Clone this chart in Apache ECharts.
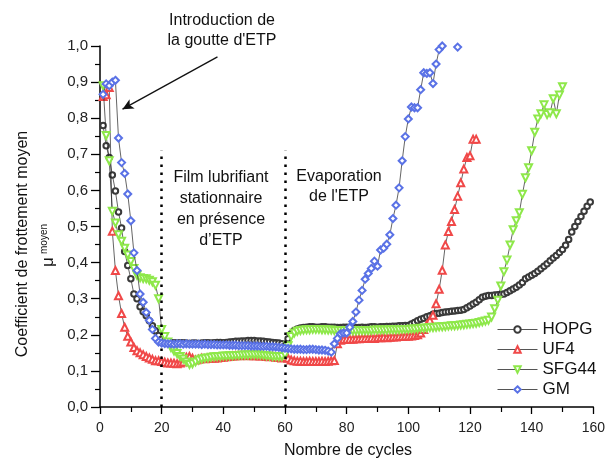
<!DOCTYPE html>
<html>
<head>
<meta charset="utf-8">
<script src="https://cdn.jsdelivr.net/npm/echarts@6/dist/echarts.min.js"></script>
<style>
  html, body { margin: 0; padding: 0; background: #fff; }
  #chart { width: 608px; height: 464px; }
</style>
</head>
<body>
<div id="chart"></div>
<script>
var seriesNames = ['HOPG', 'UF4', 'SFG44', 'GM'];
var xTicks = [0, 20, 40, 60, 80, 100, 120, 140, 160];
var yTicks = ['0,0', '0,1', '0,2', '0,3', '0,4', '0,5', '0,6', '0,7', '0,8', '0,9', '1,0'];

// coefficient de frottement, un point par cycle, a partir du cycle 1
var hopg = [
  0.78, 0.724, 0.691, 0.643, 0.598, 0.54, 0.496, 0.431, 0.392, 0.355,
  0.313, 0.30, 0.278, 0.264, 0.253, 0.239, 0.225, 0.211, 0.198, 0.188,
  0.182, 0.179, 0.178, 0.178, 0.177, 0.178, 0.178, 0.177, 0.176, 0.177,
  0.177, 0.176, 0.177, 0.178, 0.178, 0.177, 0.178, 0.179, 0.179, 0.178,
  0.179, 0.18, 0.181, 0.182, 0.182, 0.183, 0.183, 0.184, 0.184, 0.184,
  0.183, 0.183, 0.182, 0.181, 0.18, 0.179, 0.178, 0.177, 0.175, 0.17,
  0.189, 0.203, 0.212, 0.216, 0.219, 0.22, 0.221, 0.222, 0.222, 0.221,
  0.221, 0.222, 0.222, 0.221, 0.221, 0.221, 0.22, 0.22, 0.221, 0.221,
  0.22, 0.219, 0.22, 0.22, 0.221, 0.22, 0.221, 0.222, 0.222, 0.221,
  0.222, 0.222, 0.223, 0.223, 0.224, 0.224, 0.225, 0.225, 0.226, 0.226,
  0.23, 0.234, 0.239, 0.243, 0.246, 0.25, 0.253, 0.257, 0.259, 0.26,
  0.262, 0.263, 0.264, 0.265, 0.266, 0.267, 0.268, 0.27, 0.275, 0.28,
  0.285, 0.29, 0.297, 0.304, 0.307, 0.309, 0.309, 0.31, 0.311, 0.312,
  0.313, 0.317, 0.322, 0.327, 0.332, 0.338, 0.345, 0.355, 0.36, 0.365,
  0.37, 0.376, 0.383, 0.39, 0.397, 0.405, 0.413, 0.42, 0.428, 0.436,
  0.448, 0.464, 0.485, 0.5, 0.514, 0.528, 0.542, 0.556, 0.568
];
var uf4 = [
  0.86, 0.865, 0.885, 0.487, 0.378, 0.308, 0.259, 0.221, 0.196, 0.18,
  0.165, 0.156, 0.15, 0.145, 0.14, 0.136, 0.132, 0.128, 0.128, 0.126,
  0.124, 0.122, 0.122, 0.121, 0.12, 0.122, 0.125, 0.138, 0.14, 0.135,
  0.13, 0.132, 0.135, 0.134, 0.135, 0.136, 0.135, 0.136, 0.137, 0.138,
  0.139, 0.14, 0.141, 0.142, 0.142, 0.143, 0.143, 0.142, 0.143, 0.142,
  0.142, 0.141, 0.142, 0.14, 0.139, 0.14, 0.138, 0.137, 0.136, 0.138,
  0.135, 0.13, 0.128, 0.127, 0.127, 0.126, 0.126, 0.127, 0.126, 0.126,
  0.126, 0.127, 0.126, 0.127, 0.128, 0.129, 0.175, 0.185, 0.187, 0.188,
  0.188, 0.188, 0.189, 0.189, 0.19, 0.19, 0.19, 0.191, 0.19, 0.192,
  0.192, 0.193, 0.192, 0.193, 0.194, 0.194, 0.195, 0.195, 0.196, 0.196,
  0.197, 0.198, 0.2, 0.205, 0.215, 0.228, 0.24, 0.254, 0.286, 0.326,
  0.379, 0.449, 0.486, 0.514, 0.547, 0.584, 0.621, 0.659, 0.691, 0.696,
  0.742, 0.742
];
var sfg44 = [
  0.89, 0.752, 0.682, 0.542, 0.51, 0.477, 0.459, 0.44, 0.421, 0.403,
  0.384, 0.365, 0.358, 0.356, 0.355, 0.351, 0.347, 0.337, 0.30, 0.215,
  0.195, 0.18, 0.165, 0.155, 0.148, 0.14, 0.133, 0.125, 0.118, 0.12,
  0.125, 0.13, 0.133, 0.135, 0.136, 0.138, 0.139, 0.14, 0.14, 0.141,
  0.141, 0.142, 0.142, 0.143, 0.143, 0.144, 0.144, 0.144, 0.145, 0.145,
  0.145, 0.144, 0.143, 0.142, 0.141, 0.14, 0.14, 0.139, 0.14, 0.145,
  0.17, 0.195, 0.205, 0.21, 0.212, 0.213, 0.214, 0.214, 0.215, 0.215,
  0.215, 0.214, 0.214, 0.213, 0.213, 0.212, 0.212, 0.212, 0.212, 0.212,
  0.211, 0.211, 0.211, 0.212, 0.212, 0.212, 0.212, 0.212, 0.213, 0.213,
  0.213, 0.213, 0.213, 0.214, 0.214, 0.214, 0.214, 0.215, 0.215, 0.215,
  0.216, 0.216, 0.217, 0.218, 0.218, 0.219, 0.22, 0.22, 0.221, 0.222,
  0.222, 0.223, 0.224, 0.225, 0.225, 0.226, 0.227, 0.228, 0.229, 0.23,
  0.231, 0.232, 0.234, 0.236, 0.238, 0.24, 0.249, 0.272, 0.296, 0.335,
  0.375, 0.407, 0.449, 0.491, 0.516, 0.538, 0.589, 0.635, 0.663, 0.71,
  0.761, 0.798, 0.812, 0.837, 0.81, 0.815, 0.854, 0.812, 0.864, 0.887
];
var gm = [
  0.866, 0.895, 0.89, 0.9, 0.905, 0.745, 0.677, 0.647, 0.59, 0.516,
  0.427, 0.378, 0.313, 0.29, 0.262, 0.24, 0.215, 0.19, 0.18, 0.177,
  0.176, 0.175, 0.175, 0.174, 0.175, 0.175, 0.174, 0.175, 0.174, 0.174,
  0.174, 0.174, 0.173, 0.174, 0.173, 0.173, 0.173, 0.172, 0.172, 0.172,
  0.172, 0.171, 0.171, 0.171, 0.17, 0.17, 0.17, 0.17, 0.169, 0.169,
  0.169, 0.168, 0.168, 0.168, 0.167, 0.167, 0.166, 0.165, 0.164, 0.163,
  0.162, 0.161, 0.16, 0.16, 0.16, 0.159, 0.159, 0.16, 0.16, 0.159,
  0.158, 0.158, 0.157, 0.155, 0.152, 0.175, 0.19, 0.203, 0.205, 0.205,
  0.221, 0.237, 0.263, 0.296, 0.323, 0.354, 0.37, 0.384, 0.404, 0.39,
  0.435, 0.44, 0.451, 0.477, 0.522, 0.559, 0.607, 0.682, 0.749, 0.798,
  0.831, 0.829, 0.829, 0.879, 0.926, 0.924, 0.926, 0.896, 0.95, 0.99,
  1.0, null, null, null, null, 0.997
];

var colors = ['#3a3a3a', '#f04848', '#8ee84a', '#5a72e6'];
var symbols = ['emptyCircle', 'emptyTriangle', 'emptyTriangle', 'emptyDiamond'];
var rotations = [0, 0, 180, 0];
var sizes = [5.5, 7, 7, 7];

function toPoints(ys) {
  return ys.map(function (v, i) { return [i + 1, v]; });
}

var font = 'Liberation Sans, Arial, sans-serif';
var chart = echarts.init(document.getElementById('chart'));

var series = [hopg, uf4, sfg44, gm].map(function (ys, k) {
  return {
    name: seriesNames[k],
    type: 'line',
    data: toPoints(ys),
    symbol: symbols[k],
    symbolSize: sizes[k],
    symbolRotate: rotations[k],
    showAllSymbol: true,
    connectNulls: false,
    z: 2 + k,
    itemStyle: { color: colors[k], borderColor: colors[k], borderWidth: 0.8 },
    lineStyle: { color: '#222', width: 0.7 },
    emphasis: { disabled: true }
  };
});

series[0].markLine = {
  silent: true,
  symbol: 'none',
  label: { show: false },
  lineStyle: { color: '#000', width: 2.5, type: [2.5, 5.5] },
  data: [
    [{ coord: [20, 0] }, { coord: [20, 0.71] }],
    [{ coord: [60, 0] }, { coord: [60, 0.71] }]
  ]
};
series[1].markLine = {
  silent: true,
  symbol: ['none', 'arrow'],
  symbolSize: [8, 11],
  label: { show: false },
  lineStyle: { color: '#111', width: 1.3, type: 'solid' },
  data: [
    [{ coord: [38.1, 0.97] }, { coord: [7.3, 0.825] }]
  ]
};

chart.setOption({
  animation: false,
  backgroundColor: '#fff',
  grid: { left: 100, right: 13, top: 46, bottom: 57 },
  legend: {
    orient: 'vertical',
    left: 497,
    top: 321,
    padding: 0,
    itemWidth: 40,
    itemHeight: 8,
    itemGap: 3,
    data: seriesNames,
    itemStyle: { borderWidth: 0.8 },
    lineStyle: { width: 1, color: '#555' },
    textStyle: { fontFamily: font, fontSize: 17, color: '#111' }
  },
  xAxis: {
    type: 'value',
    min: 0,
    max: 160,
    interval: 20,
    axisLine: { show: true, onZero: false, lineStyle: { color: '#000', width: 1.5 } },
    axisTick: { show: true, length: 7, lineStyle: { color: '#000', width: 1.3 } },
    minorTick: { show: true, splitNumber: 2, length: 5, lineStyle: { color: '#000', width: 1.2 } },
    splitLine: { show: false },
    axisLabel: {
      margin: 14,
      fontFamily: font,
      fontSize: 14,
      color: '#222',
      formatter: function (v) { return xTicks.indexOf(v) >= 0 ? String(v) : ''; }
    }
  },
  yAxis: {
    type: 'value',
    min: 0,
    max: 1,
    interval: 0.1,
    axisLine: { show: true, onZero: false, lineStyle: { color: '#000', width: 1.5 } },
    axisTick: { show: true, length: 9, lineStyle: { color: '#000', width: 1.3 } },
    minorTick: { show: true, splitNumber: 2, length: 5, lineStyle: { color: '#000', width: 1.2 } },
    splitLine: { show: false },
    axisLabel: {
      margin: 12,
      fontFamily: font,
      fontSize: 15,
      color: '#222',
      formatter: function (v) { return yTicks[Math.round(v * 10)]; }
    }
  },
  graphic: [
    {
      type: 'text', x: 222, y: 31,
      style: {
        text: 'Introduction de\nla goutte d\'ETP', font: '16px ' + font, fill: '#111',
        textAlign: 'center', textVerticalAlign: 'middle', align: 'center', verticalAlign: 'middle', lineHeight: 20
      }
    },
    {
      type: 'text', x: 221, y: 209,
      style: {
        text: 'Film lubrifiant\nstationnaire\nen présence\nd\u2019ETP', font: '16px ' + font, fill: '#111',
        textAlign: 'center', textVerticalAlign: 'middle', align: 'center', verticalAlign: 'middle', lineHeight: 21
      }
    },
    {
      type: 'text', x: 339, y: 187,
      style: {
        text: 'Evaporation\nde l\'ETP', font: '16px ' + font, fill: '#111',
        textAlign: 'center', textVerticalAlign: 'middle', align: 'center', verticalAlign: 'middle', lineHeight: 20
      }
    },
    {
      type: 'text', x: 348, y: 451,
      style: {
        text: 'Nombre de cycles', font: '16px ' + font, fill: '#111',
        textAlign: 'center', textVerticalAlign: 'middle', align: 'center', verticalAlign: 'middle'
      }
    },
    {
      type: 'text', x: 23, y: 244, rotation: Math.PI / 2,
      style: {
        text: 'Coefficient de frottement moyen', font: '16px ' + font, fill: '#111',
        textAlign: 'center', textVerticalAlign: 'middle', align: 'center', verticalAlign: 'middle'
      }
    },
    {
      type: 'text', x: 48, y: 262, rotation: Math.PI / 2,
      style: {
        text: '\u03bc', font: '17px ' + font, fill: '#111',
        textAlign: 'center', textVerticalAlign: 'middle', align: 'center', verticalAlign: 'middle'
      }
    },
    {
      type: 'text', x: 44, y: 239, rotation: Math.PI / 2,
      style: {
        text: 'moyen', font: '10px ' + font, fill: '#111',
        textAlign: 'center', textVerticalAlign: 'middle', align: 'center', verticalAlign: 'middle'
      }
    }
  ],
  series: series
});
</script>
</body>
</html>
